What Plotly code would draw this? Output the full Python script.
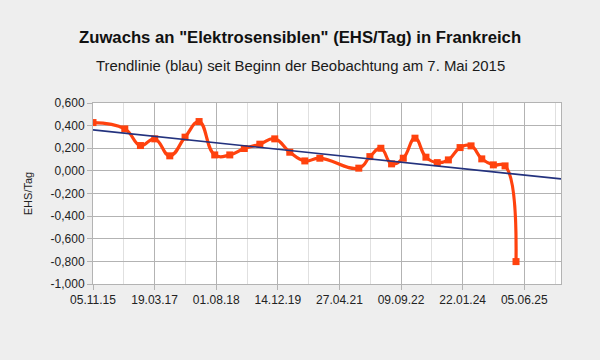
import plotly.graph_objects as go

# Data
dates = [
    "2015-11-05", "2016-07-20", "2016-11-24", "2017-03-20", "2017-07-20",
    "2017-11-21", "2018-03-15", "2018-07-20", "2018-11-19", "2019-03-17",
    "2019-07-21", "2019-11-19", "2020-03-20", "2020-07-20", "2020-11-19",
    "2021-10-01", "2021-12-30", "2022-03-29", "2022-06-24", "2022-09-27",
    "2022-12-31", "2023-03-30", "2023-06-30", "2023-09-28", "2024-01-01",
    "2024-03-30", "2024-06-25", "2024-09-27", "2024-12-31", "2025-03-30",
]
values = [
    0.427, 0.371, 0.224, 0.283, 0.133,
    0.298, 0.436, 0.141, 0.141, 0.198,
    0.236, 0.283, 0.165, 0.088, 0.112,
    0.024, 0.126, 0.200, 0.062, 0.112,
    0.289, 0.121, 0.073, 0.097, 0.206,
    0.221, 0.106, 0.053, 0.044, -0.802,
]

trend_dates = ["2015-11-05", "2026-03-30"]
trend_values = [0.362, -0.071]

ytick_values = [0.6, 0.4, 0.2, 0.0, -0.2, -0.4, -0.6, -0.8, -1.0]
ytick_labels = ["0,600", "0,400", "0,200", "0,000", "-0,200", "-0,400",
                "-0,600", "-0,800", "-1,000"]

DAY_MS = 86400000
FONT = "Liberation Sans, Arial, sans-serif"

fig = go.Figure()
fig.add_trace(go.Scatter(
    x=dates, y=values, mode="lines+markers",
    line=dict(color="#ff420e", width=3.2, shape="spline", smoothing=1.3),
    marker=dict(symbol="square", size=7, color="#ff420e"),
    showlegend=False, hoverinfo="skip",
))
fig.add_trace(go.Scatter(
    x=trend_dates, y=trend_values, mode="lines",
    line=dict(color="#23327e", width=1.6),
    showlegend=False, hoverinfo="skip",
))

title_x = (300 - 93) / 468  # page centre expressed in plot-area fraction

fig.update_layout(
    width=600, height=360,
    paper_bgcolor="#eeeeee", plot_bgcolor="#ffffff",
    margin=dict(l=93, r=39, t=103, b=76),
    font=dict(family=FONT, size=12, color="#222222"),
    annotations=[
        dict(text="<b>Zuwachs an \"Elektrosensiblen\" (EHS/Tag) in Frankreich</b>",
             xref="paper", yref="paper", x=title_x, y=1, xanchor="center",
             yshift=66, yanchor="middle", showarrow=False,
             font=dict(size=16.7, color="#111111", family=FONT)),
        dict(text="Trendlinie (blau) seit Beginn der Beobachtung am 7. Mai 2015",
             xref="paper", yref="paper", x=title_x, y=1, xanchor="center",
             yshift=37, yanchor="middle", showarrow=False,
             font=dict(size=14.9, color="#1a1a1a", family=FONT)),
    ],
)

fig.update_xaxes(
    type="date", range=["2015-11-05", "2026-03-30"],
    tick0="2015-11-05", dtick=500 * DAY_MS, tickformat="%d.%m.%y",
    showgrid=True, gridcolor="#b3b3b3", gridwidth=1,
    minor=dict(dtick=250 * DAY_MS, tick0="2015-11-05", showgrid=True,
               gridcolor="#e0e0e0", gridwidth=1),
    ticks="outside", ticklen=5, tickcolor="#b3b3b3",
    showline=True, linecolor="#b3b3b3", linewidth=1, mirror=True,
    zeroline=False, tickfont=dict(size=12, color="#222222"),
)
fig.update_yaxes(
    range=[-1.0, 0.6], tickvals=ytick_values, ticktext=ytick_labels,
    showgrid=True, gridcolor="#b3b3b3", gridwidth=1,
    ticks="outside", ticklen=5, tickcolor="#b3b3b3",
    showline=True, linecolor="#b3b3b3", linewidth=1, mirror=True,
    zeroline=False, tickfont=dict(size=12, color="#222222"),
    title=dict(text="EHS/Tag", font=dict(size=11, color="#222222"), standoff=15),
)

fig.write_html(
    "out.html",
    config={"displayModeBar": False},
    post_script="document.body.style.margin='0';document.body.style.background='#eeeeee';",
)
